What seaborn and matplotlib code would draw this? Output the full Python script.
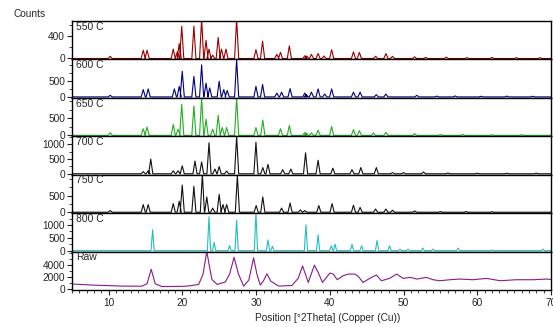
import matplotlib.pyplot as plt
import seaborn as sns
import numpy as np
import pandas as pd
from matplotlib.ticker import MultipleLocator, AutoMinorLocator

# panel labels, colours and y axis settings (top to bottom)
labels = ["550 C", "600 C", "650 C", "700 C", "750 C", "800 C", "Raw"]
colors = ["#990000", "#000080", "#22b022", "#111111", "#111111", "#20c0c0", "#8b1a8b"]
y_top = [680, 1170, 1100, 1270, 1130, 1460, 6250]
y_ticks = [[0, 400], [0, 500], [0, 500], [0, 500, 1000], [0, 500],
           [0, 500, 1000], [0, 2000, 4000]]

# peak positions (deg 2theta) and heights (counts)
pos_550 = [10.2, 14.68, 15.2, 18.75, 19.3, 19.56, 19.9, 21.55, 22.6, 23.2, 23.6, 24.1,
           24.85, 25.3, 25.9, 27.35, 29.97, 30.87, 32.8, 33.3, 34.5, 36.6, 36.85, 37.5,
           38.4, 39.2, 40.24, 43.2, 44.0, 46.2, 47.6, 48.5, 51.5, 53.0, 55.8, 58.6, 62.0,
           65.3, 68.5]
int_550 = [40, 150, 150, 170, 120, 270, 585, 585, 720, 330, 170, 60,
           380, 170, 170, 720, 160, 315, 75, 110, 230, 50, 45, 75,
           90, 45, 160, 120, 110, 40, 90, 40, 30, 20, 25, 15, 20,
           15, 15]

pos_600 = [10.2, 14.68, 15.35, 18.9, 19.56, 19.97, 21.55, 22.6, 23.2, 23.7, 24.98, 25.6,
           26.07, 27.35, 29.97, 30.87, 32.8, 33.45, 34.6, 36.6, 36.8, 37.5, 38.4, 39.3,
           40.24, 43.2, 44.1, 46.3, 47.6, 51.8, 54.5, 57.0, 60.5, 64.0, 67.5]
int_600 = [50, 230, 250, 250, 330, 800, 640, 1000, 430, 280, 490, 230,
           200, 1170, 330, 390, 120, 150, 260, 120, 70, 150, 250, 90,
           250, 150, 150, 70, 90, 50, 25, 30, 20, 25, 20]

pos_650 = [10.2, 14.68, 15.2, 18.75, 19.4, 19.9, 21.55, 22.6, 23.2, 24.1, 24.85, 25.4,
           26.0, 27.35, 29.97, 30.9, 33.3, 34.5, 36.6, 36.8, 37.5, 38.4, 40.24, 43.2,
           44.0, 45.9, 47.6, 51.5, 55.0, 58.0, 62.0, 66.0]
int_650 = [80, 195, 245, 320, 180, 910, 860, 1110, 470, 180, 590, 230,
           230, 1110, 230, 450, 195, 290, 80, 70, 70, 150, 260, 170,
           140, 70, 90, 50, 25, 25, 20, 20]

pos_700 = [14.68, 15.35, 15.7, 18.75, 19.4, 19.97, 21.7, 22.6, 23.6, 24.4, 24.98, 26.0,
           27.35, 29.97, 30.9, 31.6, 33.6, 34.7, 36.7, 38.4, 40.4, 43.0, 44.2, 46.3,
           48.5, 50.0, 52.7, 56.0, 60.0, 64.0, 68.0]
int_700 = [75, 100, 500, 100, 100, 270, 430, 400, 1050, 160, 245, 90,
           1270, 1070, 210, 320, 140, 160, 710, 460, 190, 140, 210, 210,
           40, 40, 60, 25, 20, 20, 20]

pos_750 = [10.2, 14.68, 15.35, 18.75, 19.56, 19.97, 21.55, 22.7, 23.3, 24.1, 24.98, 25.5,
           26.0, 27.45, 30.0, 30.9, 33.45, 34.6, 36.0, 36.6, 38.5, 40.3, 43.2, 44.1,
           46.2, 47.6, 48.5, 51.5, 55.0, 58.5, 62.0]
int_750 = [50, 230, 230, 260, 330, 820, 780, 1150, 460, 125, 540, 230,
           230, 1100, 200, 460, 125, 280, 70, 50, 200, 260, 210, 145,
           95, 95, 60, 40, 20, 20, 15]

pos_800 = [15.95, 23.6, 24.3, 26.4, 27.35, 29.97, 31.6, 32.2, 36.75, 38.4, 40.2, 40.7,
           43.0, 44.3, 46.4, 48.1, 49.5, 50.6, 52.6, 54.0, 57.4, 62.0, 68.9]
int_800 = [810, 1320, 320, 200, 1190, 1480, 420, 170, 1000, 615, 190, 250,
           250, 190, 400, 190, 60, 60, 100, 60, 100, 30, 60]

# raw (amorphous-ish) pattern traced point by point
raw_theta = [5.0, 6.5, 7.7, 9.5, 11.8, 14.5, 15.2, 15.76, 16.3, 17.2, 19.9, 21.0, 22.2,
             22.8, 23.3, 23.7, 24.0, 24.7, 25.8, 26.4, 27.0, 27.6, 28.3, 29.0, 29.65,
             30.1, 30.55, 31.0, 31.45, 32.0, 33.05, 34.85, 35.7, 36.3, 37.07, 37.9, 38.4,
             39.0, 40.0, 40.45, 41.0, 41.8, 42.5, 43.4, 43.85, 44.5, 45.4, 46.3, 47.0,
             48.1, 49.05, 49.95, 50.9, 51.8, 53.1, 54.0, 54.9, 56.3, 57.6, 59.4, 61.25,
             63.1, 65.3, 67.6, 69.4, 70.0]
raw_counts = [830, 760, 670, 600, 500, 480, 900, 3300, 900, 420, 450, 550, 780,
              2500, 6300, 3500, 1600, 780, 1170, 2500, 5300, 2500, 500, 1500, 5200,
              2500, 670, 1400, 2550, 1300, 500, 600, 1800, 3850, 1110, 4000, 2800,
              1110, 2670, 2500, 1560, 2230, 2500, 2500, 2120, 1110, 1780, 2340, 1390,
              1780, 2500, 1780, 1950, 1670, 1950, 1560, 1390, 1560, 1670, 1560, 1780,
              1390, 1560, 1560, 1670, 1600]

peak_sets = [(pos_550, int_550), (pos_600, int_600), (pos_650, int_650),
             (pos_700, int_700), (pos_750, int_750), (pos_800, int_800)]


def stick_trace(positions, heights, hw):
    """Turn a peak list into a polyline: baseline, up to each peak top, back down."""
    xs, ys = [5.0], [0.0]
    for p, h in zip(positions, heights):
        xs += [p - hw, p, p + hw]
        ys += [0.0, h, 0.0]
    xs.append(70.0)
    ys.append(0.0)
    return pd.DataFrame({"theta": xs, "counts": ys})


sns.set_style("ticks")
plt.rcParams['font.family'] = ['Liberation Sans', 'DejaVu Sans']
plt.rcParams['font.size'] = 7.3

fig, axes = plt.subplots(7, 1, sharex=True, figsize=(5.53, 3.27), dpi=100,
                         gridspec_kw=dict(hspace=0))
fig.subplots_adjust(left=0.130, right=0.9964, top=0.9358, bottom=0.1131)

for i, ax in enumerate(axes):
    if i < 6:
        hw = 0.22 if i == 5 else 0.28
        df = stick_trace(*peak_sets[i], hw)
    else:
        df = pd.DataFrame({"theta": raw_theta, "counts": raw_counts})
    sns.lineplot(data=df, x="theta", y="counts", ax=ax, color=colors[i],
                 linewidth=0.8, sort=False, estimator=None)

    top = y_top[i]
    ax.set_ylim(-0.025 * top, top)
    ax.set_xlim(5, 70)
    ax.set_yticks(y_ticks[i])
    ax.yaxis.set_minor_locator(AutoMinorLocator(2))
    ax.set_ylabel("")
    ax.set_xlabel("")
    ax.text(0.008, 0.98, labels[i], transform=ax.transAxes, ha="left", va="top",
            fontsize=7.5)
    for s in ax.spines.values():
        s.set_linewidth(1.0)
        s.set_color("black")
    ax.tick_params(axis="y", which="major", direction="out", length=3.5, width=0.8,
                   pad=1.5, labelsize=7.3)
    ax.tick_params(axis="y", which="minor", direction="out", length=2, width=0.6)
    if i < 6:
        ax.tick_params(axis="x", which="both", bottom=False, labelbottom=False)

bottom_ax = axes[-1]
bottom_ax.xaxis.set_major_locator(MultipleLocator(10))
bottom_ax.xaxis.set_minor_locator(MultipleLocator(1))
bottom_ax.tick_params(axis="x", which="major", direction="out", length=3.5, width=0.8,
                      pad=2, labelsize=7.3)
bottom_ax.tick_params(axis="x", which="minor", direction="out", length=2, width=0.6)

fig.text(13 / 553, 1 - 14 / 327, "Counts", ha="left", va="center", fontsize=7.3)
fig.text(328 / 553, 1 - 318 / 327, "Position [°2Theta] (Copper (Cu))",
         ha="center", va="center", fontsize=7.3)

plt.savefig("out.png", dpi=100)
plt.close()
